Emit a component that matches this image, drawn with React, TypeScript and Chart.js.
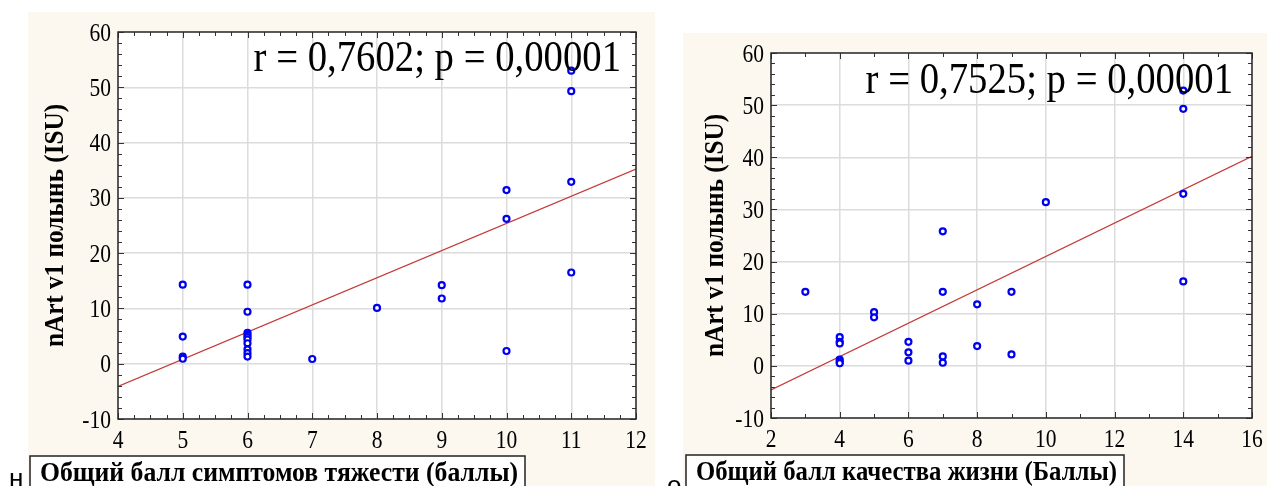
import React, { useEffect, useRef } from "react";
import { Chart, registerables } from "chart.js";
Chart.register(...registerables);

// ---------- Data: left panel (symptom severity score vs nArt v1 ISU) ----------
const symptomScore = [5, 5, 5, 5, 6, 6, 6, 6, 6, 6, 6, 6, 6, 6, 7, 8, 9, 9, 10, 10, 10, 11, 11, 11, 11];
const isuLeft = [14.3, 4.9, 1.3, 0.9, 14.3, 9.4, 5.6, 5.2, 4.8, 4.4, 3.7, 2.6, 1.9, 1.3, 0.85, 10.1, 14.2, 11.8, 31.4, 26.2, 2.3, 53.0, 49.3, 32.9, 16.5];
const fitLeftX = [4, 12];
const fitLeftY = [-4.1, 35.2];
const xTicksLeft = [4, 5, 6, 7, 8, 9, 10, 11, 12];

// ---------- Data: right panel (quality of life score vs nArt v1 ISU) ----------
const qolScore = [3, 4, 4, 4, 4, 4, 4, 5, 5, 6, 6, 6, 7, 7, 7, 7, 8, 8, 9, 9, 10, 14, 14, 14, 14];
const isuRight = [14.2, 5.5, 4.6, 4.3, 1.2, 0.8, 0.5, 10.3, 9.3, 4.6, 2.6, 1.0, 25.8, 14.2, 1.8, 0.6, 11.8, 3.8, 14.2, 2.2, 31.4, 52.8, 49.3, 33.0, 16.2];
const fitRightX = [2, 16];
const fitRightY = [-4.6, 40.2];
const xTicksRight = [2, 4, 6, 8, 10, 12, 14, 16];

const yTicks = [-10, 0, 10, 20, 30, 40, 50, 60];

const yTitleText = "nArt v1 полынь (ISU)";
const leftAnnotation = "r = 0,7602; p = 0,00001";
const rightAnnotation = "r = 0,7525; p = 0,00001";
const leftXTitle = "Общий балл симптомов тяжести (баллы)";
const rightXTitle = "Общий балл качества жизни (Баллы)";

type Spec = {
  xs: number[]; ys: number[]; fitX: number[]; fitY: number[];
  xTicks: number[]; xMinorStep: number;
  width: number; height: number;
  axisW: number; padTop: number; padRight: number; axisH: number;
  annotation: string; annRight: number; annBaseline: number;
  xTitle: string; boxLeft: number; boxTop: number; boxW: number;
  sideLetter: string; letterX: number; letterBaseline: number;
};

const SERIF = '"Liberation Serif", "Times New Roman", serif';

function condensedText(ctx: any, text: string, x: number, y: number, sx: number, align: string) {
  ctx.save();
  ctx.translate(x, y);
  ctx.scale(sx, 1);
  ctx.textAlign = align;
  ctx.fillText(text, 0, 0);
  ctx.restore();
}

function decorPlugin(spec: Spec) {
  return {
    id: "decor",
    beforeDraw(chart: any) {
      const { ctx, chartArea: a } = chart;
      ctx.save();
      ctx.fillStyle = "#ffffff";
      ctx.fillRect(a.left, a.top, a.right - a.left, a.bottom - a.top);
      ctx.restore();
    },
    afterDraw(chart: any) {
      const { ctx, chartArea: a, scales } = chart;
      const xs = scales.x, ys = scales.y;
      const xMin = spec.xTicks[0], xMax = spec.xTicks[spec.xTicks.length - 1];
      ctx.save();
      // inner tick marks on all four sides
      ctx.strokeStyle = "#333";
      ctx.lineWidth = 1;
      ctx.beginPath();
      const nX = Math.round((xMax - xMin) / spec.xMinorStep);
      for (let i = 0; i <= nX; i++) {
        const v = xMin + i * spec.xMinorStep;
        const px = Math.round(xs.getPixelForValue(v)) + 0.5;
        const major = spec.xTicks.some((t) => Math.abs(t - v) < 1e-6);
        const L = major ? 6 : 4;
        ctx.moveTo(px, a.bottom); ctx.lineTo(px, a.bottom - L);
        ctx.moveTo(px, a.top); ctx.lineTo(px, a.top + L);
      }
      for (let v = -10; v <= 60; v += 2) {
        const py = Math.round(ys.getPixelForValue(v)) + 0.5;
        const L = v % 10 === 0 ? 6 : 4;
        ctx.moveTo(a.left, py); ctx.lineTo(a.left + L, py);
        ctx.moveTo(a.right, py); ctx.lineTo(a.right - L, py);
      }
      ctx.stroke();
      // frame
      ctx.strokeStyle = "#2a2a2a";
      ctx.lineWidth = 1.5;
      ctx.strokeRect(a.left, a.top, a.right - a.left, a.bottom - a.top);

      ctx.fillStyle = "#000";
      ctx.textBaseline = "alphabetic";
      // tick labels from the library's scales (condensed serif, like the source)
      ctx.font = `25px ${SERIF}`;
      xs.ticks.forEach((t: any) => {
        condensedText(ctx, String(t.value), xs.getPixelForValue(t.value), a.bottom + 29, 0.86, "center");
      });
      ys.ticks.forEach((t: any) => {
        condensedText(ctx, String(t.value), a.left - 7, ys.getPixelForValue(t.value) + 8.5, 0.86, "right");
      });

      // annotation
      ctx.font = `44px ${SERIF}`;
      condensedText(ctx, spec.annotation, spec.annRight, spec.annBaseline, 0.88, "right");

      // y title
      ctx.save();
      ctx.translate(63, (a.top + a.bottom) / 2);
      ctx.rotate(-Math.PI / 2);
      ctx.scale(0.9, 1);
      ctx.font = `bold 28px ${SERIF}`;
      ctx.textAlign = "center";
      ctx.fillText(yTitleText, 0, 0);
      ctx.restore();

      // x title box
      ctx.fillStyle = "#ffffff";
      ctx.fillRect(spec.boxLeft, spec.boxTop, spec.boxW, 60);
      ctx.strokeStyle = "#222";
      ctx.lineWidth = 1.5;
      ctx.strokeRect(spec.boxLeft, spec.boxTop, spec.boxW, 60);
      ctx.fillStyle = "#000";
      ctx.font = `bold 27px ${SERIF}`;
      const tw = ctx.measureText(spec.xTitle).width;
      const avail = spec.boxW - 17;
      condensedText(ctx, spec.xTitle, spec.boxLeft + 10, spec.boxTop + 25, Math.min(1, avail / tw), "left");

      // stray caption letter
      ctx.font = `26px "Liberation Sans", Arial, sans-serif`;
      ctx.textAlign = "left";
      ctx.fillText(spec.sideLetter, spec.letterX, spec.letterBaseline);
      ctx.restore();
    },
  };
}

function makeChart(canvas: HTMLCanvasElement, spec: Spec) {
  const xMin = spec.xTicks[0], xMax = spec.xTicks[spec.xTicks.length - 1];
  return new Chart(canvas, {
    type: "scatter",
    data: {
      datasets: [
        {
          type: "scatter",
          data: spec.xs.map((x, i) => ({ x, y: spec.ys[i] })),
          pointRadius: 3,
          pointBorderWidth: 2.2,
          borderColor: "#0000f0",
          backgroundColor: "#ffffff",
          pointHoverRadius: 3,
        },
        {
          type: "line",
          data: spec.fitX.map((x, i) => ({ x, y: spec.fitY[i] })),
          borderColor: "#c43a3a",
          borderWidth: 1.2,
          pointRadius: 0,
          showLine: true,
          fill: false,
        },
      ],
    } as any,
    options: {
      responsive: false,
      animation: false,
      events: [],
      layout: { padding: { left: 0, top: spec.padTop, right: spec.padRight, bottom: 0 } },
      plugins: { legend: { display: false }, tooltip: { enabled: false } },
      scales: {
        x: {
          type: "linear",
          min: xMin,
          max: xMax,
          afterBuildTicks: (s: any) => { s.ticks = spec.xTicks.map((v) => ({ value: v })); },
          afterFit: (s: any) => { s.height = spec.axisH; },
          ticks: { display: false, autoSkip: false },
          grid: { color: "#dcdcdc", lineWidth: 1.5, drawTicks: false },
          border: { display: false },
        },
        y: {
          type: "linear",
          min: -10,
          max: 60,
          afterBuildTicks: (s: any) => { s.ticks = yTicks.map((v) => ({ value: v })); },
          afterFit: (s: any) => { s.width = spec.axisW; },
          ticks: { display: false },
          grid: { color: "#dcdcdc", lineWidth: 1.5, drawTicks: false },
          border: { display: false },
        },
      },
    } as any,
    plugins: [decorPlugin(spec)],
  });
}

const leftSpec: Spec = {
  xs: symptomScore, ys: isuLeft, fitX: fitLeftX, fitY: fitLeftY,
  xTicks: xTicksLeft, xMinorStep: 0.25,
  width: 660, height: 486,
  axisW: 118, padTop: 32, padRight: 24, axisH: 67,
  annotation: leftAnnotation, annRight: 621, annBaseline: 71,
  xTitle: leftXTitle, boxLeft: 30, boxTop: 456, boxW: 495,
  sideLetter: "н", letterX: 9, letterBaseline: 487,
};

const rightSpec: Spec = {
  xs: qolScore, ys: isuRight, fitX: fitRightX, fitY: fitRightY,
  xTicks: xTicksRight, xMinorStep: 1,
  width: 607, height: 486,
  axisW: 111, padTop: 53, padRight: 15, axisH: 68,
  annotation: rightAnnotation, annRight: 573, annBaseline: 93,
  xTitle: rightXTitle, boxLeft: 26, boxTop: 455, boxW: 438,
  sideLetter: "о", letterX: 7, letterBaseline: 494,
};

function Panel({ spec, left }: { spec: Spec; left: number }) {
  const ref = useRef<HTMLCanvasElement | null>(null);
  useEffect(() => {
    if (!ref.current) return;
    const chart = makeChart(ref.current, spec);
    return () => chart.destroy();
  }, [spec]);
  return (
    <canvas
      ref={ref}
      width={spec.width}
      height={spec.height}
      style={{ position: "absolute", left, top: 0, width: spec.width, height: spec.height }}
    />
  );
}

export default function App() {
  return (
    <div style={{ position: "absolute", left: 0, top: 0, width: 1267, height: 486, background: "#ffffff", overflow: "hidden" }}>
      <div style={{ position: "absolute", left: 28, top: 12, width: 627, height: 474, background: "#fcf8ef" }} />
      <div style={{ position: "absolute", left: 683, top: 33, width: 584, height: 453, background: "#fcf8ef" }} />
      <Panel spec={leftSpec} left={0} />
      <Panel spec={rightSpec} left={660} />
    </div>
  );
}
